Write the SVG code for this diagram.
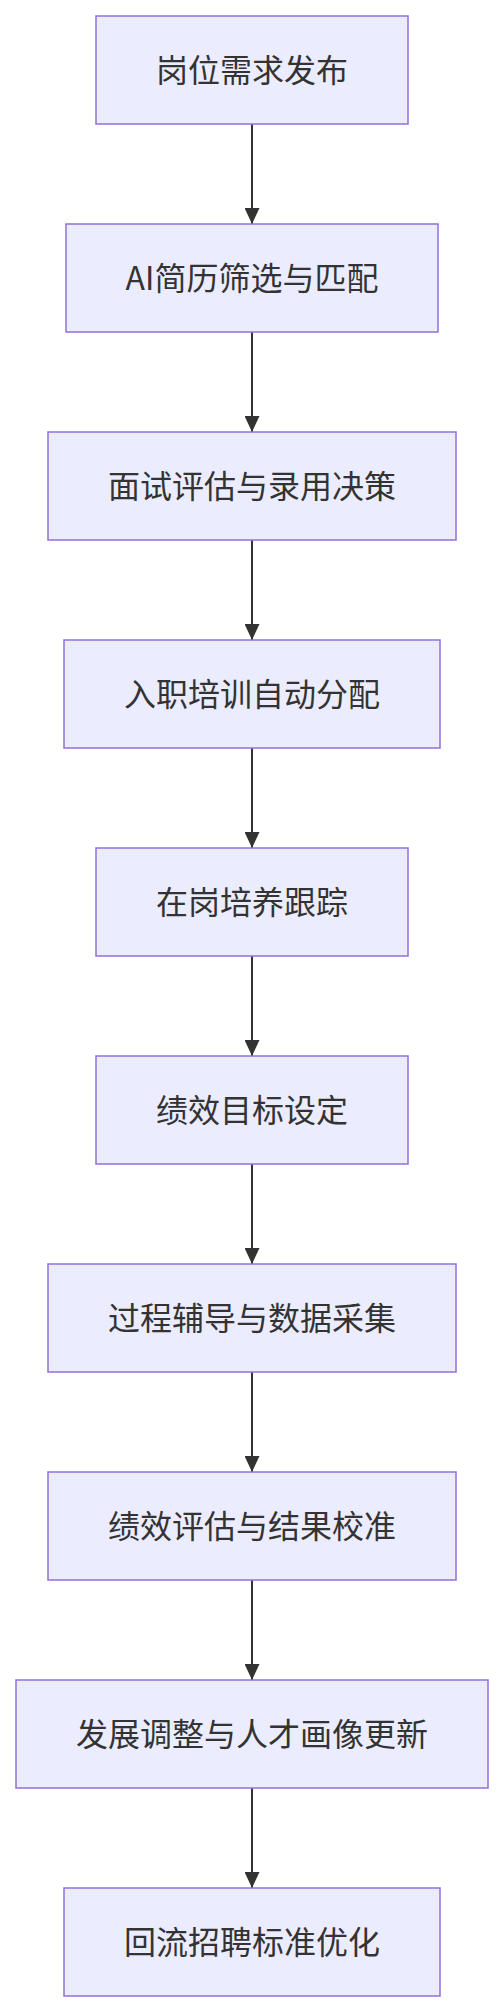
<svg xmlns="http://www.w3.org/2000/svg" width="504" height="2012" viewBox="0 0 504 2012">
<style>
.node rect{fill:#ECECFF;stroke:#9370DB;stroke-width:1.5px;}
.node text{font-family:"Noto Sans CJK SC","Liberation Sans",sans-serif;font-size:32px;fill:#333333;text-anchor:middle;dominant-baseline:central;}
.edge{stroke:#333333;stroke-width:2px;fill:none;marker-end:url(#arrow);}
</style>
<defs>
<marker id="arrow" viewBox="0 0 16 15" refX="16" refY="7.5" markerWidth="16" markerHeight="15" markerUnits="userSpaceOnUse" orient="auto">
<path d="M0,0 L16,7.5 L0,15 z" fill="#333333"/>
</marker>
</defs>
<rect width="504" height="2012" fill="#ffffff"/>
<g id="connectors">
<line class="edge" x1="252" y1="124" x2="252" y2="224"/>
<line class="edge" x1="252" y1="332" x2="252" y2="432"/>
<line class="edge" x1="252" y1="540" x2="252" y2="640"/>
<line class="edge" x1="252" y1="748" x2="252" y2="848"/>
<line class="edge" x1="252" y1="956" x2="252" y2="1056"/>
<line class="edge" x1="252" y1="1164" x2="252" y2="1264"/>
<line class="edge" x1="252" y1="1372" x2="252" y2="1472"/>
<line class="edge" x1="252" y1="1580" x2="252" y2="1680"/>
<line class="edge" x1="252" y1="1788" x2="252" y2="1888"/>
</g>
<g id="n1" class="node"><rect x="96" y="16" width="312" height="108"/><text x="252" y="68">岗位需求发布</text></g>
<g id="n2" class="node"><rect x="66" y="224" width="372" height="108"/><text x="252" y="276">AI简历筛选与匹配</text></g>
<g id="n3" class="node"><rect x="48" y="432" width="408" height="108"/><text x="252" y="484">面试评估与录用决策</text></g>
<g id="n4" class="node"><rect x="64" y="640" width="376" height="108"/><text x="252" y="692">入职培训自动分配</text></g>
<g id="n5" class="node"><rect x="96" y="848" width="312" height="108"/><text x="252" y="900">在岗培养跟踪</text></g>
<g id="n6" class="node"><rect x="96" y="1056" width="312" height="108"/><text x="252" y="1108">绩效目标设定</text></g>
<g id="n7" class="node"><rect x="48" y="1264" width="408" height="108"/><text x="252" y="1316">过程辅导与数据采集</text></g>
<g id="n8" class="node"><rect x="48" y="1472" width="408" height="108"/><text x="252" y="1524">绩效评估与结果校准</text></g>
<g id="n9" class="node"><rect x="16" y="1680" width="472" height="108"/><text x="252" y="1732">发展调整与人才画像更新</text></g>
<g id="n10" class="node"><rect x="64" y="1888" width="376" height="108"/><text x="252" y="1940">回流招聘标准优化</text></g>
</svg>
